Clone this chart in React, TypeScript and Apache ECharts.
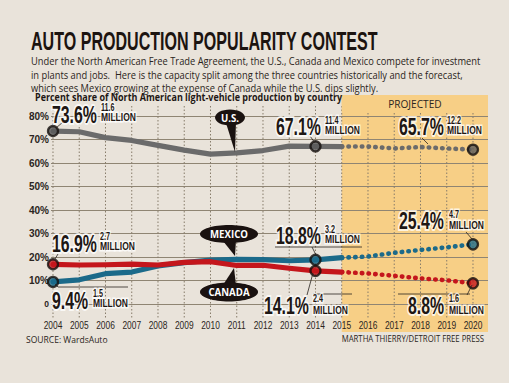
import React, { useEffect, useRef } from "react";
import * as echarts from "echarts";

const histYears = [2004, 2005, 2006, 2007, 2008, 2009, 2010, 2011, 2012, 2013, 2014, 2015];
const projYears = [2015, 2016, 2017, 2018, 2019, 2020];
const tickYears = [2004, 2005, 2006, 2007, 2008, 2009, 2010, 2011, 2012, 2013, 2014, 2015, 2016, 2017, 2018, 2019, 2020];

const usHist = [73.6, 73.3, 70.8, 69.6, 67.5, 65.5, 63.8, 64.3, 65.3, 67.2, 67.1, 67.0];
const usProj = [67.0, 67.0, 66.2, 66.8, 66.2, 65.7];
const mexicoHist = [9.4, 10.3, 12.9, 13.6, 16.2, 17.6, 18.7, 19.0, 18.9, 18.4, 18.8, 19.7];
const mexicoProj = [19.7, 20.2, 21.8, 23.0, 24.1, 25.4];
const canadaHist = [16.9, 16.6, 16.7, 17.0, 16.6, 17.7, 18.0, 16.4, 16.5, 15.2, 14.1, 13.6];
const canadaProj = [13.6, 13.0, 12.0, 10.9, 10.1, 8.8];

const markerYears = [2004, 2014, 2020];
const usMillions = ["11.6", "11.4", "12.2"];
const mexicoMillions = ["1.5", "3.2", "4.7"];
const canadaMillions = ["2.7", "2.4", "1.6"];

const C_US = "#6b6b6b";
const C_MX = "#1b6a8a";
const C_CA = "#c4161c";
const INK = "#1e1714";
const ARIAL = "'Liberation Sans', Arial, sans-serif";
const SANS = "'Open Sans', 'Noto Sans', sans-serif";

const pair = (xs: number[], ys: number[]) => xs.map((x, i) => [x, ys[i]]);
const valueAt = (year: number) => {
  const pick = (h: number[], p: number[]) => (year <= 2015 ? h[histYears.indexOf(year)] : p[projYears.indexOf(year)]);
  return { us: pick(usHist, usProj), mx: pick(mexicoHist, mexicoProj), ca: pick(canadaHist, canadaProj) };
};

function T(text: string, x: number, y: number, o: any = {}) {
  return {
    type: "text",
    x,
    y,
    scaleX: o.sx ?? 1,
    z: o.z ?? 20,
    silent: true,
    style: {
      text,
      font: o.font,
      fill: o.fill ?? INK,
      textAlign: o.align ?? "left",
      textVerticalAlign: "middle",
      stroke: o.halo ?? undefined,
      lineWidth: o.halo ? o.haloW ?? 4 : 0,
    },
  };
}

function L(x1: number, y1: number, x2: number, y2: number, w = 0.8) {
  return { type: "line", z: 15, silent: true, shape: { x1, y1, x2, y2 }, style: { stroke: "#2a2420", lineWidth: w } };
}

function bubble(cx: number, cy: number, rx: number, ry: number, tail: number[][], text: string, fs: number) {
  return [
    { type: "polygon", z: 18, silent: true, shape: { points: tail }, style: { fill: "#1a1210" } },
    { type: "ellipse", z: 18, silent: true, shape: { cx, cy, rx, ry }, style: { fill: "#1a1210" } },
    T(text, cx, cy, { font: `bold ${fs}px ${SANS}`, fill: "#ffffff", align: "center", sx: 0.92, z: 19 }),
  ];
}

function valueLabel(big: string, small: string, x: number, yBig: number, xs: number, ySmall: number, yMil: number) {
  const halo = "rgba(255,255,255,0.75)";
  return [
    T(big, x, yBig, { font: `bold 24px ${ARIAL}`, sx: 0.66, halo, haloW: 4 }),
    T(small, xs, ySmall, { font: `bold 10px ${ARIAL}`, sx: 0.72, halo, haloW: 3 }),
    T("MILLION", xs, yMil, { font: `bold 10px ${ARIAL}`, sx: 0.85, halo, haloW: 3 }),
  ];
}

export default function App() {
  const ref = useRef<HTMLDivElement>(null);
  useEffect(() => {
    document.body.style.margin = "0";
    const chart = echarts.init(ref.current!, null, { renderer: "svg" });
    const markerSeries = (name: string, key: "us" | "mx" | "ca", color: string) => ({
      name,
      type: "scatter",
      z: 5,
      symbol: "circle",
      symbolSize: 10,
      itemStyle: { color, borderColor: "#140f0d", borderWidth: 2.3 },
      data: markerYears.map((y) => [y, valueAt(y)[key]]),
    });
    const solid = (name: string, xs: number[], ys: number[], color: string, z: number) => ({
      name,
      type: "line",
      z,
      showSymbol: false,
      symbol: "none",
      lineStyle: { color, width: 5.2, cap: "round", join: "round" },
      data: pair(xs, ys),
    });
    const dotted = (name: string, xs: number[], ys: number[], color: string, z: number) => ({
      name,
      type: "line",
      z,
      showSymbol: false,
      symbol: "none",
      lineStyle: { color, width: 4.6, type: [0.5, 6.2], cap: "round" },
      data: pair(xs, ys),
    });
    chart.setOption({
      animation: false,
      backgroundColor: "transparent",
      grid: { left: 51, right: 21, top: 116, bottom: 79 },
      xAxis: {
        type: "value",
        min: 2003.924,
        max: 2020.572,
        axisLine: { show: false },
        axisTick: { show: false },
        splitLine: { show: false },
        axisLabel: { show: false },
      },
      yAxis: {
        type: "value",
        min: 0,
        max: 80,
        interval: 10,
        axisLine: { show: false },
        axisTick: { show: false },
        splitLine: { lineStyle: { color: "#8f8573", width: 1 } },
        axisLabel: {
          margin: 2,
          formatter: (v: number) => (v === 0 ? "{z|0}" : v + "%"),
          color: "#2b2521",
          fontSize: 10,
          fontWeight: "bold",
          fontFamily: ARIAL,
          rich: { z: { fontSize: 8.5, fontWeight: "bold", fontFamily: ARIAL, color: "#2b2521" } },
        },
      },
      series: [
        solid("U.S.", histYears, usHist, C_US, 2),
        dotted("U.S. projected", projYears, usProj, C_US, 2),
        solid("Mexico", histYears, mexicoHist, C_MX, 3),
        dotted("Mexico projected", projYears, mexicoProj, C_MX, 3),
        solid("Canada", histYears, canadaHist, C_CA, 4),
        dotted("Canada projected", projYears, canadaProj, C_CA, 4),
        markerSeries("U.S. markers", "us", "#5a5a5a"),
        markerSeries("Mexico markers", "mx", C_MX),
        markerSeries("Canada markers", "ca", C_CA),
      ],
    });

    const px = (x: number, y: number) => chart.convertToPixel({ gridIndex: 0 }, [x, y]) as number[];
    const x2015 = px(2015, 0)[0];
    const xRight = px(2020.572, 0)[0];

    const graphics: any[] = [];
    graphics.push({
      type: "rect",
      z: -1,
      silent: true,
      shape: { x: x2015, y: 95, width: xRight - x2015, height: 237 },
      style: { fill: "#f7cf86" },
    });
    tickYears.forEach((yr) => {
      const x = px(yr, 0)[0];
      graphics.push({
        type: "line",
        z: 1,
        silent: true,
        shape: { x1: x, y1: 106, x2: x, y2: 318 },
        style: { stroke: "#877c6a", lineWidth: 1, lineDash: [1.5, 2] },
      });
      graphics.push(T(String(yr), x, 325, { font: `10.5px ${ARIAL}`, sx: 0.8, align: "center", fill: "#2b2521" }));
    });
    graphics.push({
      type: "rect",
      z: 2,
      silent: true,
      shape: { x: x2015, y: 95, width: xRight - x2015, height: 17 },
      style: { fill: "#f7cf86" },
    });
    graphics.push(T("PROJECTED", (x2015 + xRight) / 2, 103.5, { font: `11.5px ${SANS}`, sx: 0.88, align: "center", fill: "#2b2521" }));

    // title and texts
    graphics.push(T("AUTO PRODUCTION POPULARITY CONTEST", 31, 41, { font: `bold 25px ${ARIAL}`, sx: 0.643, fill: "#1c1410" }));
    const sub = [
      "Under the North American Free Trade Agreement, the U.S., Canada and Mexico compete for investment",
      "in plants and jobs.  Here is the capacity split among the three countries historically and the forecast,",
      "which sees Mexico growing at the expense of Canada while the U.S. dips slightly.",
    ];
    sub.forEach((s, i) => graphics.push(T(s, 31, 61 + i * 13.5, { font: `11.5px ${SANS}`, sx: 0.81, fill: "#2a2420" })));
    graphics.push(T("Percent share of North American light-vehicle production by country", 35, 97.5, { font: `bold 10.5px ${SANS}`, sx: 0.855, fill: "#1e1714" }));
    graphics.push(T("SOURCE: WardsAuto", 26, 339, { font: `9.5px ${SANS}`, sx: 0.9, fill: "#2b2521" }));
    graphics.push(T("MARTHA THIERRY/DETROIT FREE PRESS", 484, 339, { font: `9.5px ${SANS}`, sx: 0.82, align: "right", fill: "#2b2521" }));

    // leader lines
    graphics.push(L(56, 128, 63, 122));
    graphics.push(L(310, 136, 315, 143));
    graphics.push(L(422, 138, 428, 144));
    graphics.push(L(58, 254, 55, 259));
    graphics.push(L(275, 247, 362, 247));
    graphics.push(L(312, 247, 316, 255));
    graphics.push(L(466, 232, 472, 239));
    graphics.push(L(58, 287, 128, 287));
    graphics.push(L(55, 284, 58, 287));
    graphics.push(L(313, 273, 307, 295));
    graphics.push(L(313, 294, 352, 294));
    graphics.push(L(472, 285, 467, 295));
    graphics.push(L(398, 294, 470, 294));

    // value labels
    graphics.push(...valueLabel(valueAt(2004).us.toFixed(1) + "%", usMillions[0], 52, 114.5, 101, 107.5, 117.5));
    graphics.push(...valueLabel(valueAt(2014).us.toFixed(1) + "%", usMillions[1], 276, 126.5, 325, 120.5, 131));
    graphics.push(...valueLabel(valueAt(2020).us.toFixed(1) + "%", usMillions[2], 399, 126.5, 447, 120.5, 131));
    graphics.push(...valueLabel(valueAt(2004).ca.toFixed(1) + "%", canadaMillions[0], 52, 244, 100, 236.5, 247));
    graphics.push(...valueLabel(valueAt(2014).mx.toFixed(1) + "%", mexicoMillions[1], 276, 236, 325, 229.5, 240));
    graphics.push(...valueLabel(valueAt(2020).mx.toFixed(1) + "%", mexicoMillions[2], 399, 221, 449, 214.5, 225.5));
    graphics.push(...valueLabel(valueAt(2004).mx.toFixed(1) + "%", mexicoMillions[0], 52, 301, 93, 293.5, 303.5));
    graphics.push(...valueLabel(valueAt(2014).ca.toFixed(1) + "%", canadaMillions[1], 264, 306, 313, 298.5, 311));
    graphics.push(...valueLabel(valueAt(2020).ca.toFixed(1) + "%", canadaMillions[2], 408, 306, 449, 298.5, 311));

    // callout bubbles
    graphics.push(...bubble(230, 117.5, 15, 8, [[226, 123], [236, 122], [235, 152]], "U.S.", 10.5));
    graphics.push(...bubble(229, 234, 29, 9, [[223, 241], [236, 240], [235, 256]], "MEXICO", 10.5));
    graphics.push(...bubble(229, 292, 29, 9.5, [[223, 285], [236, 285], [234, 268]], "CANADA", 10.5));

    chart.setOption({ graphic: graphics });
    return () => chart.dispose();
  }, []);
  return (
    <div
      ref={ref}
      style={{ position: "fixed", left: 0, top: 0, width: 509, height: 383, background: "#e9e3da" }}
    />
  );
}
